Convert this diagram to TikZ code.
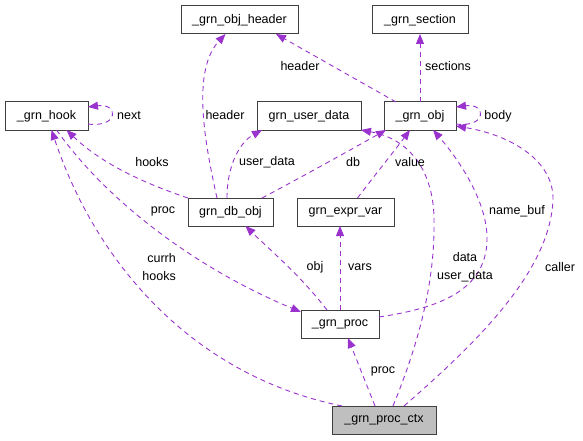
\documentclass[tikz,border=0pt]{standalone}
\usepackage{fontspec}
\setmainfont{Liberation Sans}
\usetikzlibrary{arrows.meta}
\definecolor{edgecol}{HTML}{9A32CD}
\definecolor{boxcol}{HTML}{404040}
\tikzset{>={Triangle[length=10pt,width=8pt]}}
\tikzset{
  cls/.style={draw=boxcol,line width=1pt,minimum height=28pt,inner sep=2pt,outer sep=0pt,font=\fontsize{12.5}{15}\selectfont},
  dep/.style={draw=edgecol,->,line width=0.9pt,dash pattern=on 5pt off 4pt},
  lbl/.style={inner sep=0pt,font=\fontsize{12.5}{18}\selectfont}
}

\begin{document}
\begin{tikzpicture}[x=1pt,y=1pt]
\useasboundingbox (0,0) rectangle (583,440);
% classes
\node[cls,minimum width=117pt] (hdr) at (239.5,420) {\_grn\_obj\_header};
\node[cls,minimum width=96pt] (sec) at (420,420) {\_grn\_section};
\node[cls,minimum width=83pt] (hook) at (46.5,324) {\_grn\_hook};
\node[cls,minimum width=104pt] (udata) at (309,324) {grn\_user\_data};
\node[cls,minimum width=72pt] (obj) at (420,324) {\_grn\_obj};
\node[cls,minimum width=85pt] (dbobj) at (230.5,228) {grn\_db\_obj};
\node[cls,minimum width=97pt] (evar) at (345.5,228) {grn\_expr\_var};
\node[cls,minimum width=78pt] (proc) at (340,116) {\_grn\_proc};
\node[cls,minimum width=104pt,fill={rgb,255:red,191;green,191;blue,191}] (ctx) at (384,20) {\_grn\_proc\_ctx};

% members
\draw[dep] ([xshift=12pt]obj.north west) -- ([xshift=-22pt]hdr.south east);
\draw[dep] (obj.north) -- (sec.south);
\draw[dep] ([yshift=-8pt]obj.east) .. controls (487,312) and (487,337) .. ([yshift=9pt]obj.east);
\draw[dep] ([yshift=-8pt]hook.east) .. controls (119,312) and (119,337) .. ([yshift=9pt]hook.east);
\draw[dep] ([xshift=-13.5pt]dbobj.north) .. controls (204,300) and (192,370) .. ([xshift=-14pt]hdr.south);
\draw[dep] (dbobj.north west) .. controls (140,258) and (100,278) .. ([xshift=20pt]hook.south);
\draw[dep] ([xshift=-3.5pt]dbobj.north) .. controls (227,275) and (240,298) .. ([xshift=5pt]udata.south west);
\draw[dep] ([xshift=-11pt]dbobj.north east) .. controls (300,262) and (350,290) .. ([xshift=2pt]obj.south west);
\draw[dep] ([xshift=12pt]evar.north) .. controls (375,265) and (395,290) .. ([xshift=-10pt]obj.south);
\draw[dep] ([xshift=-13pt]proc.north) .. controls (300,165) and (270,190) .. ([xshift=15pt]dbobj.south);
\draw[dep] (proc.north) -- (proc.north |- evar.south);
\draw[dep] ([yshift=7pt]proc.east) .. controls (440,132) and (486,150) .. (487,200)
  .. controls (488,240) and (455,285) .. ([xshift=13pt]obj.south);
\draw[dep] ([xshift=10pt]hook.south) .. controls (110,235) and (200,170) .. ([yshift=-2pt]proc.north west);
\draw[dep] ([xshift=-42pt]ctx.north) .. controls (190,65) and (95,180) .. ([xshift=5pt]hook.south);
\draw[dep] ([xshift=-9pt]ctx.north) -- ([xshift=8pt]proc.south);
\draw[dep] ([xshift=9pt]ctx.north) .. controls (420,100) and (435,160) .. (434,220)
  .. controls (434,262) and (415,300) .. (udata.south east);
\draw[dep] ([xshift=20pt]ctx.north) .. controls (480,100) and (550,170) .. (553,240)
  .. controls (554,280) and (510,305) .. ([yshift=4pt]obj.south east);

% labels
\node[lbl] (l-hdr1) at (300,374) {header};
\node[lbl] (l-sec) at (448,374) {sections};
\node[lbl] (l-body) at (498,324) {body};
\node[lbl] (l-next) at (129,324) {next};
\node[lbl] (l-hdr2) at (225,325) {header};
\node[lbl] (l-hooks) at (152,278) {hooks};
\node[lbl] (l-udata) at (267,278) {user\_data};
\node[lbl] (l-db) at (353,278) {db};
\node[lbl] (l-value) at (410,278) {value};
\node[lbl] (l-obj) at (315,173) {obj};
\node[lbl] (l-vars) at (360,173) {vars};
\node[lbl] (l-namebuf) at (517,229) {name\_buf};
\node[lbl] (l-proc1) at (163,229) {proc};
\node[lbl,align=right,anchor=east] (l-currh) at (176,173) {currh\\hooks};
\node[lbl] (l-proc2) at (383,69) {proc};
\node[lbl,align=center] (l-data) at (465,173) {data\\user\_data};
\node[lbl] (l-caller) at (560,173) {caller};
\end{tikzpicture}
\end{document}
